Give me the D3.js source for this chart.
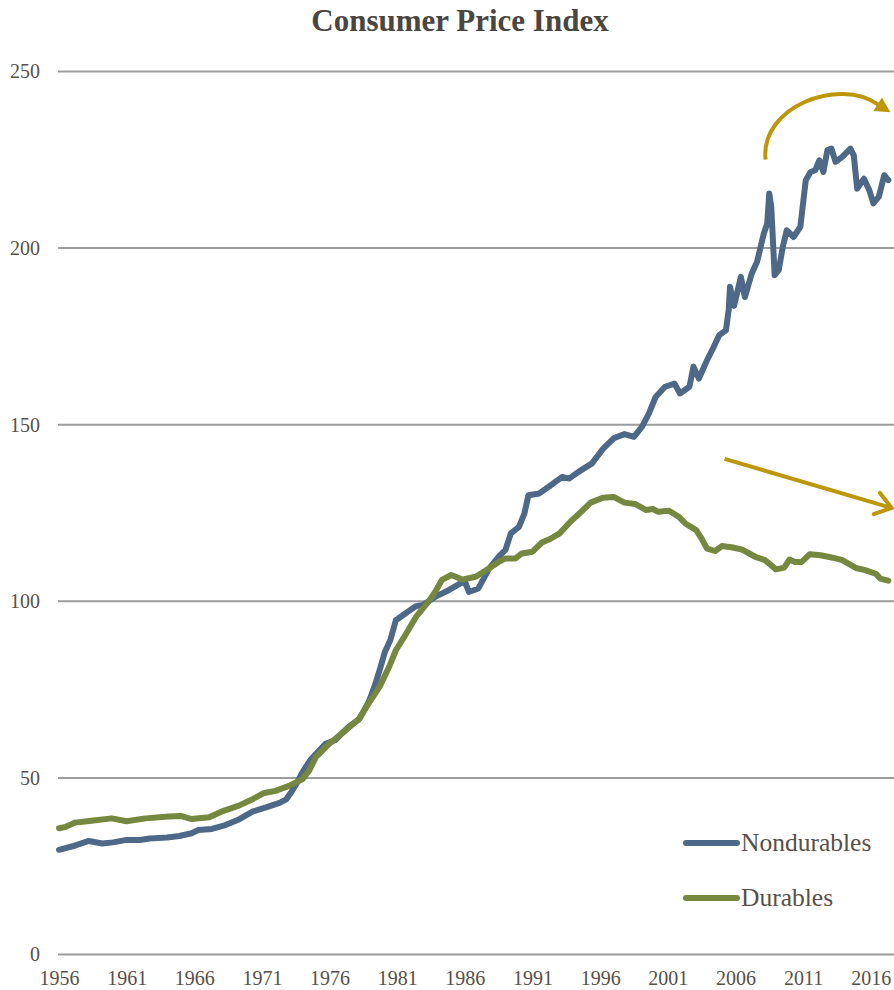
<!DOCTYPE html>
<html>
<head>
<meta charset="utf-8">
<script src="https://cdn.jsdelivr.net/npm/d3@7"></script>
<style>
  html, body { margin: 0; padding: 0; background: #fff; }
  svg { display: block; }
  text { font-family: "Liberation Serif", "DejaVu Serif", serif; }
</style>
</head>
<body>
<svg id="chart" width="894" height="990"></svg>
<script>
// ---- Data ----
const ndYears = [1956.0,1957.0,1958.2,1959.2,1960.0,1961.0,1962.0,1962.7,1964.0,1964.9,1965.8,1966.3,1967.3,1968.3,1969.3,1970.3,1971.3,1972.3,1972.8,1973.2,1973.6,1974.0,1974.6,1975.2,1975.7,1976.4,1977.4,1978.2,1978.9,1979.3,1979.7,1980.1,1980.5,1980.9,1981.6,1982.4,1982.9,1983.8,1984.8,1985.8,1986.0,1986.3,1987.0,1987.8,1988.5,1989.0,1989.4,1990.0,1990.4,1990.7,1991.5,1992.2,1993.2,1993.7,1994.4,1995.4,1996.2,1997.0,1997.8,1998.5,1999.1,1999.6,2000.1,2000.8,2001.5,2001.9,2002.6,2002.9,2003.3,2003.9,2004.4,2004.8,2005.3,2005.5,2005.6,2005.9,2006.4,2006.7,2007.2,2007.6,2008.1,2008.35,2008.5,2008.65,2008.9,2009.2,2009.5,2009.8,2010.3,2010.8,2011.2,2011.55,2011.9,2012.2,2012.5,2012.8,2013.1,2013.4,2013.9,2014.5,2014.75,2015.0,2015.5,2015.9,2016.2,2016.6,2017.0,2017.3];
const ndValues = [29.5,30.5,32.0,31.3,31.6,32.3,32.3,32.7,33.0,33.4,34.2,35.1,35.4,36.5,38.1,40.3,41.5,42.8,43.8,46.0,48.5,51.5,55.0,57.5,59.5,60.5,64.3,66.5,71.4,75.5,80.4,85.6,89.0,94.5,96.4,98.5,98.8,101.1,103.0,105.2,105.5,102.5,103.5,109.2,112.5,114.4,119.1,120.9,124.7,129.9,130.4,132.3,135.1,134.6,136.5,138.9,143.0,146.0,147.2,146.4,149.3,153.0,157.7,160.6,161.5,158.7,160.6,166.3,162.9,168.1,171.9,175.2,176.6,182.3,188.9,183.5,191.7,186.0,192.6,196.0,204.0,206.8,215.3,211.5,192.2,193.6,200.2,204.9,203.0,205.9,219.1,221.4,221.9,224.7,221.4,227.6,228.0,224.3,225.7,228.0,226.1,216.7,219.5,216.2,212.5,214.4,220.5,219.1];

const durYears = [1956.0,1956.5,1957.2,1958.4,1959.9,1961.0,1962.4,1964.1,1965.0,1965.8,1967.1,1968.0,1969.3,1970.3,1971.1,1972.0,1973.0,1974.0,1974.5,1975.0,1976.0,1977.2,1978.2,1978.9,1979.7,1980.4,1980.9,1981.6,1982.4,1983.3,1983.8,1984.3,1985.0,1985.8,1986.8,1987.8,1988.5,1989.0,1989.75,1990.2,1991.0,1991.7,1992.3,1993.0,1993.8,1994.6,1995.3,1996.2,1997.0,1997.8,1998.6,1999.4,1999.9,2000.3,2001.1,2001.8,2002.3,2003.1,2003.5,2003.9,2004.5,2005.0,2005.8,2006.5,2007.5,2008.2,2009.0,2009.6,2010.0,2010.4,2010.9,2011.5,2012.3,2013.2,2013.9,2014.9,2015.6,2016.4,2016.7,2017.3];
const durValues = [35.6,36.0,37.2,37.7,38.4,37.6,38.4,38.9,39.1,38.2,38.7,40.3,42.0,43.8,45.5,46.2,47.6,49.5,52.0,55.8,59.6,63.4,66.7,71.0,75.7,81.3,86.0,90.3,95.5,99.7,102.5,105.9,107.3,106.0,106.8,109.2,111.0,112.0,112.0,113.4,113.9,116.5,117.5,119.1,122.4,125.2,127.8,129.2,129.4,127.8,127.4,125.7,126.0,125.2,125.5,123.8,121.9,120.0,117.6,114.8,114.1,115.5,115.1,114.5,112.4,111.5,108.9,109.4,111.7,111.0,111.0,113.2,112.9,112.2,111.5,109.3,108.7,107.6,106.3,105.7];

const yTicks = [0, 50, 100, 150, 200, 250];
const xTickYears = [1956,1961,1966,1971,1976,1981,1986,1991,1996,2001,2006,2011,2016];
const seriesNames = ["Nondurables", "Durables"];
const chartTitle = "Consumer Price Index";

// annotation arrows, in data units (year, index)
const curvedArrowPts = [[2008.23, 224.9], [2007.8, 239.9], [2013.7, 248.4], [2016.55, 240.5], [2017.45, 238.3]];
const straightArrowPts = [[2005.2, 140.2], [2017.55, 126.3]];

// ---- Layout ----
const W = 894, H = 990;
const svg = d3.select("#chart");
const x = d3.scaleLinear().domain([1956, 2017.5]).range([59, 891]);
const y = d3.scaleLinear().domain([0, 250]).range([954, 71]);

const textColor = "#575049";
const gridColor = "#9c9c9c";
const blue = "#4e6888";
const green = "#76873f";
const gold = "#bd960a";

// title
svg.append("text")
  .attr("x", 460).attr("y", 31)
  .attr("text-anchor", "middle")
  .attr("font-size", 31).attr("font-weight", "bold")
  .attr("fill", "#4b4540")
  .text(chartTitle);

// y axis gridlines + labels
const yAxis = d3.axisLeft(y).tickValues(yTicks).tickSize(-(W - 58)).tickPadding(18).tickFormat(d3.format("d"));
const gy = svg.append("g").attr("transform", "translate(58,0)").call(yAxis);
gy.select(".domain").remove();
gy.selectAll(".tick line").attr("stroke", gridColor).attr("stroke-width", 2);
gy.selectAll(".tick text").attr("font-size", 20).attr("fill", textColor)
  .attr("font-family", "Liberation Serif, serif").attr("dy", "0.34em");

// x axis labels
const xAxis = d3.axisBottom(x).tickValues(xTickYears).tickSize(0).tickPadding(17).tickFormat(d3.format("d"));
const gx = svg.append("g").attr("transform", "translate(0,954)").call(xAxis);
gx.select(".domain").remove();
gx.selectAll(".tick text").attr("font-size", 20).attr("fill", textColor)
  .attr("font-family", "Liberation Serif, serif");

// lines
const line = d3.line().x(d => x(d[0])).y(d => y(d[1]));
const ndData = ndYears.map((yr, i) => [yr, ndValues[i]]);
const durData = durYears.map((yr, i) => [yr, durValues[i]]);

svg.append("path").datum(ndData)
  .attr("d", line).attr("fill", "none")
  .attr("stroke", blue).attr("stroke-width", 6)
  .attr("stroke-linejoin", "round").attr("stroke-linecap", "round");
svg.append("path").datum(durData)
  .attr("d", line).attr("fill", "none")
  .attr("stroke", green).attr("stroke-width", 6)
  .attr("stroke-linejoin", "round").attr("stroke-linecap", "round");

// legend
const legend = [[seriesNames[0], blue, 843], [seriesNames[1], green, 898]];
legend.forEach(([name, col, ly]) => {
  svg.append("line").attr("x1", 686).attr("x2", 737).attr("y1", ly).attr("y2", ly)
    .attr("stroke", col).attr("stroke-width", 6).attr("stroke-linecap", "round");
  svg.append("text").attr("x", 741).attr("y", ly + 8)
    .attr("font-size", 25.5).attr("fill", textColor).text(name);
});

// annotation: curved arrow
const cp = curvedArrowPts.map(d => [x(d[0]), y(d[1])]);
const curvePath = d3.path();
curvePath.moveTo(cp[0][0], cp[0][1]);
curvePath.bezierCurveTo(cp[1][0], cp[1][1], cp[2][0], cp[2][1], cp[3][0], cp[3][1]);
svg.append("path").attr("d", curvePath.toString())
  .attr("fill", "none").attr("stroke", gold).attr("stroke-width", 4);
{
  const tip = cp[4], base = cp[3];
  const ang = Math.atan2(tip[1] - base[1], tip[0] - base[0]);
  const L = 15, hw = 8;
  const bx = tip[0] - L * Math.cos(ang), by = tip[1] - L * Math.sin(ang);
  const px = -Math.sin(ang), py = Math.cos(ang);
  svg.append("path")
    .attr("d", `M${tip[0]},${tip[1]}L${bx + px * hw},${by + py * hw}L${bx - px * hw},${by - py * hw}Z`)
    .attr("fill", gold);
}

// annotation: straight arrow with open head
{
  const s = [x(straightArrowPts[0][0]), y(straightArrowPts[0][1])];
  const e = [x(straightArrowPts[1][0]), y(straightArrowPts[1][1])];
  svg.append("line").attr("x1", s[0]).attr("y1", s[1]).attr("x2", e[0] - 2).attr("y2", e[1] - 0.6)
    .attr("stroke", gold).attr("stroke-width", 4);
  const ang = Math.atan2(e[1] - s[1], e[0] - s[0]);
  const L = 19, spread = 0.62;
  const a1 = [e[0] - L * Math.cos(ang - spread), e[1] - L * Math.sin(ang - spread)];
  const a2 = [e[0] - L * Math.cos(ang + spread), e[1] - L * Math.sin(ang + spread)];
  svg.append("path").attr("d", `M${a1[0]},${a1[1]}L${e[0]},${e[1]}L${a2[0]},${a2[1]}`)
    .attr("fill", "none").attr("stroke", gold).attr("stroke-width", 4)
    .attr("stroke-linecap", "round").attr("stroke-linejoin", "miter");
}
</script>
</body>
</html>
